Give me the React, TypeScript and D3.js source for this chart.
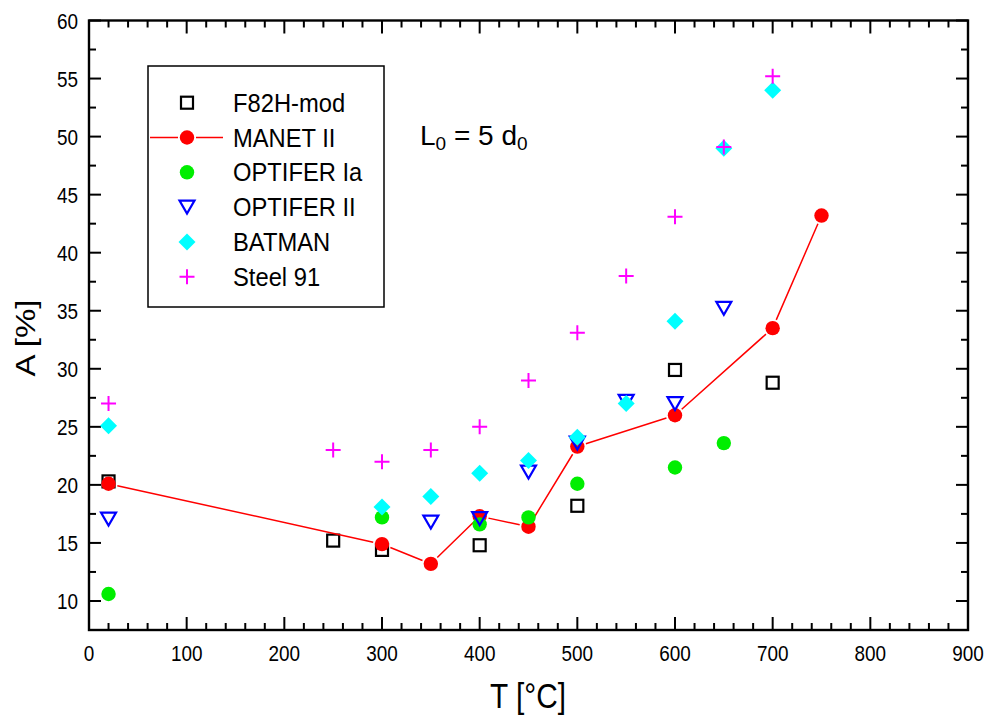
import React from "react";
import * as d3 from "d3";

const W = 989;
const H = 716;

// Data
const f82hT = [20, 250, 300, 400, 500, 600, 700];
const f82hA = [20.3, 15.2, 14.4, 14.8, 18.2, 29.9, 28.8];

const manetT = [20, 300, 350, 400, 450, 500, 600, 700, 750];
const manetA = [20.1, 14.9, 13.2, 17.3, 16.4, 23.3, 26.0, 33.5, 43.2];

const optIaT = [20, 300, 400, 450, 500, 600, 650];
const optIaA = [10.6, 17.2, 16.6, 17.2, 20.1, 21.5, 23.6];

const optIIT = [20, 350, 400, 450, 500, 550, 600, 650];
const optIIA = [17.05, 16.8, 17.1, 21.1, 23.6, 27.2, 27.0, 35.2];

const batmanT = [20, 300, 350, 400, 450, 500, 550, 600, 650, 700];
const batmanA = [25.1, 18.1, 19.0, 21.0, 22.1, 24.1, 27.0, 34.1, 49.0, 54.0];

const steelT = [20, 250, 300, 350, 400, 450, 500, 550, 600, 650, 700];
const steelA = [27, 23, 22, 23, 25, 29, 33.1, 38, 43.1, 49.1, 55.2];

const xTicks = [0, 100, 200, 300, 400, 500, 600, 700, 800, 900];
const yTicks = [10, 15, 20, 25, 30, 35, 40, 45, 50, 55, 60];
const legendLabels = ["F82H-mod", "MANET II", "OPTIFER Ia", "OPTIFER II", "BATMAN", "Steel 91"];

const FONT = "'Liberation Sans', Arial, sans-serif";

const x = d3.scaleLinear().domain([0, 900]).range([89, 968]);
const y = d3.scaleLinear().domain([7.5, 60]).range([630, 20.5]);

const xMinor = d3.range(0, 901, 20);
const yMinor = d3.range(7.5, 60.01, 2.5);

type Kind = "square" | "circleR" | "circleG" | "tri" | "diamond" | "plus";

function Marker({ kind, cx, cy }: { kind: Kind; cx: number; cy: number }) {
  const t = `translate(${cx},${cy})`;
  switch (kind) {
    case "square":
      return <rect x={cx - 6} y={cy - 6} width={12} height={12} fill="none" stroke="#000" strokeWidth={2.2} />;
    case "circleR":
      return <circle cx={cx} cy={cy} r={7.2} fill="#ff0000" />;
    case "circleG":
      return <circle cx={cx} cy={cy} r={7.2} fill="#00ee00" />;
    case "tri":
      return <path transform={t} d="M-7.5,-6.5L7.5,-6.5L0,6.5Z" fill="none" stroke="#0000ff" strokeWidth={2.2} strokeLinejoin="miter" />;
    case "diamond":
      return <path transform={t} d="M0,-8.5L8.5,0L0,8.5L-8.5,0Z" fill="#00ffff" />;
    case "plus":
      return <path transform={t} d="M-7.5,0H7.5M0,-7.5V7.5" stroke="#ff00ff" strokeWidth={2} fill="none" />;
  }
}

function series(ts: number[], as: number[], kind: Kind, key: string) {
  return ts.map((t, i) => <Marker key={key + i} kind={kind} cx={x(t)} cy={y(as[i])} />);
}

function gappedSegments(pts: [number, number][], gap: number) {
  const segs: string[] = [];
  for (let i = 0; i < pts.length - 1; i++) {
    const [x1, y1] = pts[i];
    const [x2, y2] = pts[i + 1];
    const dx = x2 - x1, dy = y2 - y1;
    const L = Math.hypot(dx, dy);
    if (L <= 2 * gap) continue;
    const ux = dx / L, uy = dy / L;
    segs.push(`M${x1 + ux * gap},${y1 + uy * gap}L${x2 - ux * gap},${y2 - uy * gap}`);
  }
  return segs.join("");
}

export default function App() {
  const manetPts: [number, number][] = manetT.map((t, i) => [x(t), y(manetA[i])]);
  const left = x(0), right = x(900), top = y(60), bottom = y(7.5);

  const legendX = 148, legendY = 66, legendW = 236, legendH = 241;
  const symX = 187, textX = 233, row0 = 102.7, rowStep = 34.8;
  const kinds: Kind[] = ["square", "circleR", "circleG", "tri", "diamond", "plus"];

  return (
    <svg width={W} height={H} style={{ position: "absolute", left: 0, top: 0, background: "#fff" }} fontFamily={FONT}>
      <rect width={W} height={H} fill="#fff" />
      {/* ticks */}
      <g stroke="#000" strokeWidth={2}>
        {xMinor.map((v) => {
          const major = v % 100 === 0;
          const len = major ? 13 : 7;
          return (
            <g key={"xt" + v}>
              <line x1={x(v)} x2={x(v)} y1={bottom} y2={bottom - len} />
              <line x1={x(v)} x2={x(v)} y1={top} y2={top + len} />
            </g>
          );
        })}
        {yMinor.map((v) => {
          const major = Math.abs(v % 5) < 1e-6;
          const len = major ? 12 : 7;
          return (
            <g key={"yt" + v}>
              <line x1={left} x2={left + len} y1={y(v)} y2={y(v)} />
              <line x1={right} x2={right - len} y1={y(v)} y2={y(v)} />
            </g>
          );
        })}
      </g>
      {/* frame */}
      <rect x={left} y={top} width={right - left} height={bottom - top} fill="none" stroke="#000" strokeWidth={2.4} />

      {/* tick labels */}
      {xTicks.map((v) => (
        <text key={"xl" + v} transform={`translate(${x(v)},661) scale(0.86,1)`} textAnchor="middle" fontSize={22} fill="#000">
          {v}
        </text>
      ))}
      {yTicks.map((v) => (
        <text key={"yl" + v} transform={`translate(78,${y(v) + 8}) scale(0.86,1)`} textAnchor="end" fontSize={22} fill="#000">
          {v}
        </text>
      ))}

      {/* axis titles */}
      <text transform={`translate(528,708) scale(0.85,1)`} textAnchor="middle" fontSize={35} fill="#000">
        T [°C]
      </text>
      <text transform={`translate(35,338) scale(0.85,1) rotate(-90)`} textAnchor="middle" fontSize={33} fill="#000">
        A [%]
      </text>

      {/* data */}
      <g>{series(f82hT, f82hA, "square", "sq")}</g>
      <path d={gappedSegments(manetPts, 9)} stroke="#ff0000" strokeWidth={1.5} fill="none" />
      <g>{series(manetT, manetA, "circleR", "mr")}</g>
      <g>{series(optIaT, optIaA, "circleG", "og")}</g>
      <g>{series(optIIT, optIIA, "tri", "ot")}</g>
      <g>{series(batmanT, batmanA, "diamond", "bd")}</g>
      <g>{series(steelT, steelA, "plus", "sp")}</g>

      {/* legend */}
      <rect x={legendX} y={legendY} width={legendW} height={legendH} fill="none" stroke="#000" strokeWidth={1.5} />
      {legendLabels.map((lab, i) => {
        const cy = row0 + i * rowStep;
        return (
          <g key={"lg" + i}>
            {kinds[i] === "circleR" && (
              <path d={`M150,${cy}H${symX - 9}M${symX + 9},${cy}H223`} stroke="#ff0000" strokeWidth={1.5} />
            )}
            <Marker kind={kinds[i]} cx={symX} cy={cy} />
            <text transform={`translate(${textX},${cy + 9}) scale(0.95,1)`} fontSize={25} fill="#000">
              {lab}
            </text>
          </g>
        );
      })}

      {/* annotation */}
      <text x={420} y={145} fontSize={28} fill="#000">
        L<tspan fontSize={19} dy={5}>0</tspan>
        <tspan dy={-5}> = 5 d</tspan>
        <tspan fontSize={19} dy={5}>0</tspan>
      </text>
    </svg>
  );
}
